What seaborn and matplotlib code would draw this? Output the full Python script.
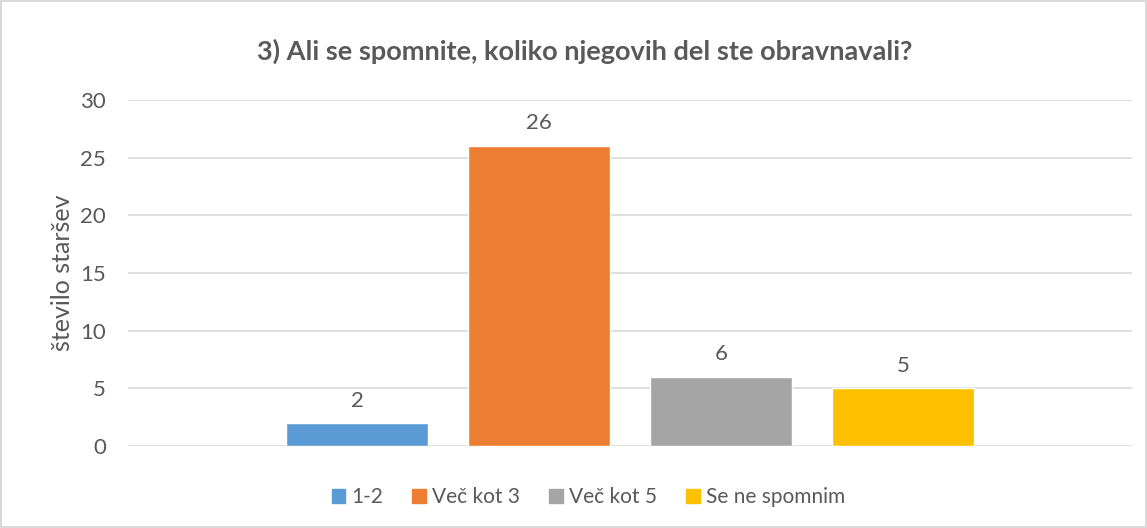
import pandas as pd
import seaborn as sns
import matplotlib.pyplot as plt

categories = ["1-2", "Več kot 3", "Več kot 5", "Se ne spomnim"]
values = [2, 26, 6, 5]
colors = ["#5B9BD5", "#ED7D31", "#A5A5A5", "#FFC000"]

df = pd.DataFrame({"grp": [""] * len(categories), "odgovor": categories, "n": values})

sns.set_style("white")
plt.rcParams['font.family'] = ['Lato', 'DejaVu Sans']
txt = "#595959"

fig = plt.figure(figsize=(11.47, 5.28), dpi=100)
fig.patch.set_edgecolor("#D9D9D9")
fig.patch.set_linewidth(1.5)
ax = fig.add_axes([0.1116, 0.155, 0.8754, 0.656])

sns.barplot(data=df, x="grp", y="n", hue="odgovor", hue_order=categories,
            palette=colors, width=0.725, gap=0.215, saturation=1, ax=ax, legend=False)

for c in ax.containers:
    ax.bar_label(c, padding=9, fontsize=16, color=txt)

ax.set_ylim(0, 30)
ax.set_yticks(range(0, 31, 5))
ax.set_xlim(-0.5, 0.5)
ax.set_xticks([])
ax.set_xlabel("")
ax.set_ylabel("število staršev", fontsize=18, color=txt, labelpad=4)
ax.tick_params(axis="y", labelsize=16, labelcolor=txt, length=0, pad=16)
ax.yaxis.grid(True, color="#D9D9D9", lw=1.2)
ax.set_axisbelow(True)
for s in ax.spines.values():
    s.set_visible(False)

fig.text(0.51, 0.902, "3) Ali se spomnite, koliko njegovih del ste obravnavali?",
         ha="center", va="center", fontsize=19.5, fontweight="bold", color=txt)

handles = [plt.Rectangle((0, 0), 1, 1, color=c) for c in colors]
fig.legend(handles, categories, loc="center", bbox_to_anchor=(0.513, 0.058), ncol=4,
           frameon=False, fontsize=15, labelcolor=txt, handlelength=0.65, handleheight=0.65,
           handletextpad=0.3, columnspacing=1.4)

fig.savefig("out.png", dpi=100)
